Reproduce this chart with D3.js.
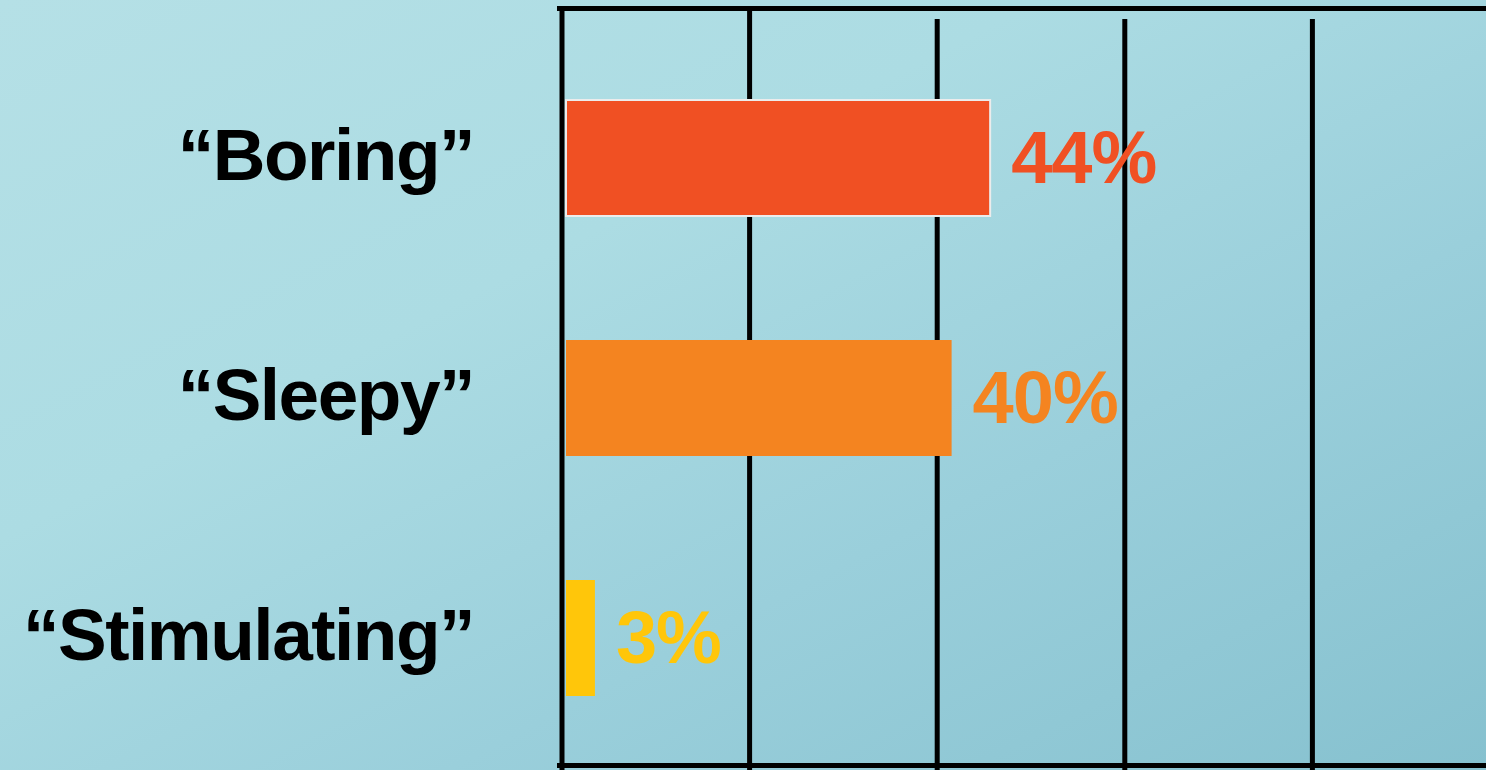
<!DOCTYPE html>
<html>
<head>
<meta charset="utf-8">
<script src="https://cdn.jsdelivr.net/npm/d3@7"></script>
<style>
  html, body { margin: 0; padding: 0; overflow: hidden; }
  svg { display: block; }
</style>
</head>
<body>
<div id="chart"></div>
<script>
// chart data
var categories = ["\u201CBoring\u201D", "\u201CSleepy\u201D", "\u201CStimulating\u201D"];
var values = [44, 40, 3];
var valueLabels = ["44%", "40%", "3%"];
var barColors = ["#F05023", "#F48420", "#FFC60A"];
var gridSteps = [0, 1, 2, 3, 4, 5];

var width = 1486, height = 770;

// scales
var x = d3.scaleLinear().domain([0, 100]).range([566, 1530]);
var gx = d3.scaleLinear().domain([0, 5]).range([562, 1500]);
var y = d3.scaleBand().domain(categories).range([40, 756])
    .paddingInner(0.5167).paddingOuter(0.25);

var svg = d3.select("#chart").append("svg")
    .attr("width", width)
    .attr("height", height);

// background
var defs = svg.append("defs");
var grad = defs.append("linearGradient")
    .attr("id", "bg")
    .attr("x1", "0").attr("y1", "0")
    .attr("x2", "1").attr("y2", "1");
grad.append("stop").attr("offset", "0%").attr("stop-color", "#b5e0e6");
grad.append("stop").attr("offset", "35%").attr("stop-color", "#acdce3");
grad.append("stop").attr("offset", "65%").attr("stop-color", "#9acfdb");
grad.append("stop").attr("offset", "100%").attr("stop-color", "#86c1cf");

svg.append("rect")
    .attr("width", width)
    .attr("height", height)
    .attr("fill", "url(#bg)");

// gridlines
svg.selectAll(".grid")
    .data(gridSteps.slice(1))
    .enter()
    .append("line")
    .attr("class", "grid")
    .attr("x1", function(d) { return gx(d); })
    .attr("x2", function(d) { return gx(d); })
    .attr("y1", function(d) { return d == 1 ? 8 : 19; })
    .attr("y2", height)
    .style("stroke", "#000")
    .style("stroke-width", 5);

// frame: left axis, top and bottom lines
svg.append("line")
    .attr("x1", gx(0)).attr("x2", gx(0))
    .attr("y1", 6).attr("y2", height)
    .style("stroke", "#000").style("stroke-width", 5);
svg.append("line")
    .attr("x1", 557).attr("x2", width)
    .attr("y1", 8.5).attr("y2", 8.5)
    .style("stroke", "#000").style("stroke-width", 5);
svg.append("line")
    .attr("x1", 557).attr("x2", width)
    .attr("y1", 765.5).attr("y2", 765.5)
    .style("stroke", "#000").style("stroke-width", 5);

// bars
svg.selectAll(".bar")
    .data(values)
    .enter()
    .append("rect")
    .attr("class", "bar")
    .attr("x", x(0))
    .attr("y", function(d, i) { return y(categories[i]); })
    .attr("width", function(d) { return x(d) - x(0); })
    .attr("height", y.bandwidth())
    .style("fill", function(d, i) { return barColors[i]; })
    .style("stroke", function(d, i) { return i == 0 ? "#ececec" : "none"; })
    .style("stroke-width", 2);

// value labels
svg.selectAll(".val")
    .data(values)
    .enter()
    .append("text")
    .attr("class", "val")
    .attr("x", function(d) { return x(d) + 21; })
    .attr("y", function(d, i) { return y(categories[i]) + y.bandwidth() / 2 + 25; })
    .style("font-family", "'Liberation Sans', Arial, sans-serif")
    .style("font-weight", "bold")
    .style("font-size", "74px")
    .style("letter-spacing", "-1px")
    .style("fill", function(d, i) { return barColors[i]; })
    .text(function(d, i) { return valueLabels[i]; });

// category labels
svg.selectAll(".cat")
    .data(categories)
    .enter()
    .append("text")
    .attr("class", "cat")
    .attr("x", 474)
    .attr("y", function(d) { return y(d) + y.bandwidth() / 2 + 22; })
    .style("text-anchor", "end")
    .style("font-family", "'Liberation Sans', Arial, sans-serif")
    .style("font-weight", "bold")
    .style("font-size", "73px")
    .style("letter-spacing", "-1.5px")
    .style("fill", "#000")
    .text(function(d) { return d; });
</script>
</body>
</html>
